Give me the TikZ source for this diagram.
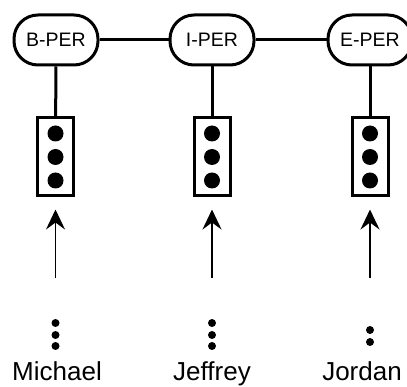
\documentclass[tikz,border=0pt]{standalone}
\usepackage{fontspec}
\setmainfont{Liberation Sans}
\usetikzlibrary{arrows.meta}
\tikzset{>={Stealth[length=20pt,width=19pt,inset=7pt]}}
\tikzset{
  tag/.style={draw, line width=3pt, rounded corners=24pt, minimum width=84pt, minimum height=50pt, inner sep=0pt, font=\fontsize{19.5}{24}\selectfont},
  vecbox/.style={draw, line width=3pt, minimum width=36pt, minimum height=78pt, inner sep=0pt},
  word/.style={anchor=base, inner sep=0pt, font=\fontsize{26}{30}\selectfont},
  link/.style={line width=3pt}
}

\begin{document}
\begin{tikzpicture}[x=1pt,y=-1pt]
  \useasboundingbox (0,0) rectangle (407,387);

  % labels on top
  \node[tag] (bper) at (56,40) {B-PER};
  \node[tag] (iper) at (212,40) {I-PER};
  \node[tag] (eper) at (370,40) {E-PER};
  \draw[link] (bper) -- (iper);
  \draw[link] (iper) -- (eper);

  % hidden vectors
  \node[vecbox] (hb) at (55.5,157) {};
  \node[vecbox] (hi) at (212,157) {};
  \node[vecbox] (he) at (370,157) {};
  \draw[link] (bper) -- (hb);
  \draw[link] (iper) -- (hi);
  \draw[link] (eper) -- (he);
  \foreach \h in {hb,hi,he}
    \foreach \dy in {-23.5,0,23.5}
      \fill ([yshift=-\dy]\h.center) circle (8);

  % input words
  \node[word] (wm) at (57,381) {Michael};
  \node[word] (wj) at (212,381) {Jeffrey};
  \node[word] (wd) at (362,381) {Jordan};

  \coordinate (tb) at (55.5,278);
  \coordinate (ti) at (212,278);
  \coordinate (te) at (370,278);
  \draw[->, line width=1.8pt, shorten >=12pt] (tb) -- (hb);
  \draw[->, line width=1.8pt, shorten >=12pt] (ti) -- (hi);
  \draw[->, line width=1.8pt, shorten >=12pt] (te) -- (he);

  % vertical dots
  \foreach \y in {323,335,346} {
    \fill (55.5,\y) circle (4);
    \fill (212,\y) circle (4);
  }
  \fill (370,330) circle (4);
  \fill (370,342) circle (4);
\end{tikzpicture}
\end{document}
